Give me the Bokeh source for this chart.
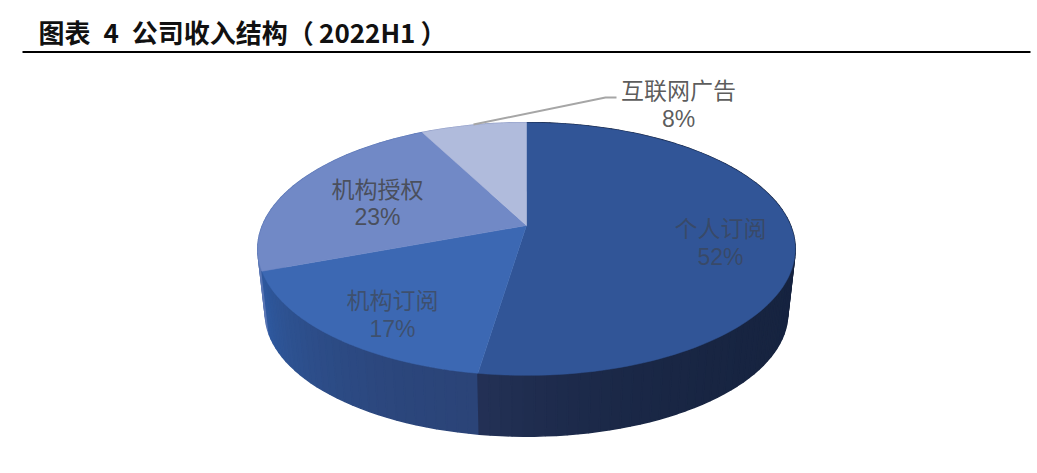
import numpy as np
from bokeh.plotting import figure
from bokeh.models import Range1d
from bokeh.core.properties import value
from bokeh.embed import file_html
from bokeh.resources import INLINE

TITLE = "图表\u20024\u2002公司收入结构（\u20092022H1\u2009）"
categories = ["个人订阅", "机构订阅", "机构授权", "互联网广告"]
shares = [52.4, 16.9, 23.1, 7.6]
top_colors = ["#315597", "#3c68b3", "#7189c6", "#b0bbdc"]
side_start = ["#16233f", "#2b4478", "#5a76b4", "#8f9dc6"]
side_end = ["#233156", "#2f5aa0", "#5a76b4", "#8f9dc6"]
side_power = [7, 1.6, 1, 1]
label_x = [720, 392, 377, 678]
label_y = [226, 298, 187, 88]
pct_y = [256, 328, 216, 118]
text_alpha = [0.55, 0.6, 0.8, 0.85]

CX, APEX_Y, RX, H, C = 526.0, 225.0, 264.0, 122.0, 0.186


def project(theta, squeeze=1.0, dy=0.0):
    u, v = np.sin(theta), np.cos(theta)
    w = 1 + C * v
    return CX + squeeze * RX * u / w, APEX_Y + dy + squeeze * (-H * v / w)


def mix(a, b, t):
    ca = [int(a[i:i + 2], 16) for i in (1, 3, 5)]
    cb = [int(b[i:i + 2], 16) for i in (1, 3, 5)]
    return "#%02x%02x%02x" % tuple(round(x + (y - x) * t) for x, y in zip(ca, cb))


p = figure(width=1031, height=465, x_range=Range1d(0, 1031), y_range=Range1d(465, 0),
           toolbar_location=None, output_backend="svg", min_border=0,
           background_fill_color="white", outline_line_color=None)
p.axis.visible = False
p.grid.visible = False

edges = np.radians(np.concatenate([[0], np.cumsum(shares)]) * 3.6)

# side wall, back strips first
strips = []
for i in range(len(shares)):
    n = max(int((edges[i + 1] - edges[i]) / np.radians(2)), 1)
    th = np.linspace(edges[i], edges[i + 1], n + 1)
    for j in range(n):
        t = (j + .5) / n
        strips.append((np.cos(th[j]), th[j], th[j + 1], mix(side_start[i], side_end[i], t ** side_power[i])))
strips.sort(key=lambda s: -s[0])
xs, ys, cols = [], [], []
for _, a, b, col in strips:
    x1, y1 = project(np.array([a, b]))
    x2, y2 = project(np.array([b, a]), squeeze=0.972, dy=65)
    xs.append(np.concatenate([x1, x2]).tolist())
    ys.append(np.concatenate([y1, y2]).tolist())
    cols.append(col)
p.patches(xs, ys, fill_color=cols, line_color=cols, line_width=1.5)

# top face
for i in range(len(shares)):
    th = np.linspace(edges[i], edges[i + 1], 120)
    x, y = project(th)
    p.patch(np.r_[CX, x].tolist(), np.r_[APEX_Y, y].tolist(), fill_color=top_colors[i],
            line_color=top_colors[i], line_width=0.5)

# leader line for the smallest slice
p.line([473, 605, 616], [124, 97, 97], line_color="#a6a6a6", line_width=2)

# labels
p.text(label_x, label_y, text=categories, text_font=value("Noto Sans CJK SC"), text_font_size="23px",
       text_align="center", text_baseline="middle", text_color="#404040", text_alpha=text_alpha)
p.text(label_x, pct_y, text=[f"{round(v)}%" for v in shares], text_font=value("Liberation Sans"),
       text_font_size="23px", text_align="center", text_baseline="middle", text_color="#404040",
       text_alpha=text_alpha)

# heading and rule
p.text([38], [31], text=[TITLE], text_font=value("Noto Sans CJK SC"), text_font_size="26px",
       text_font_style="bold", text_align="left", text_baseline="middle", text_color="#111111")
p.line([22, 1030], [51.5, 51.5], line_color="black", line_width=2)

open("out.html", "w").write(file_html(p, INLINE))
